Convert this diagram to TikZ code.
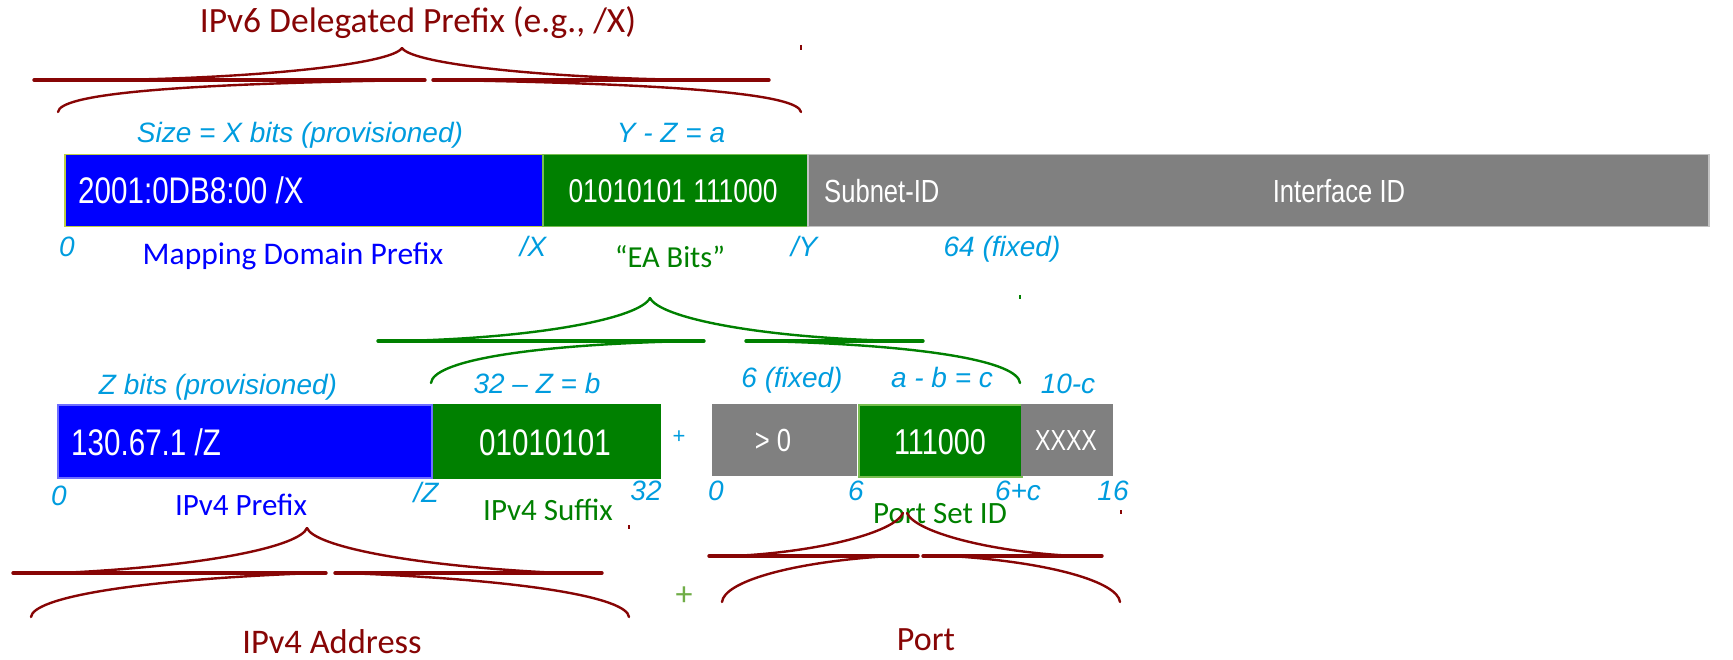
\documentclass[tikz,border=0pt]{standalone}
\usepackage{fontspec}
\setmainfont{Carlito}
\newfontfamily\arialf{Liberation Sans}
\newfontfamily\arialn[FakeStretch=0.8]{Liberation Sans}
\newcommand\fsz[1]{\fontsize{#1}{#1}\selectfont}
\definecolor{dred}{RGB}{135,5,5}
\definecolor{skyb}{RGB}{0,156,222}
\definecolor{bitgreen}{RGB}{0,128,0}
\definecolor{bitgray}{RGB}{128,128,128}
\definecolor{ylgreen}{RGB}{190,205,70}
\definecolor{lgreen}{RGB}{120,190,80}
\definecolor{lblue}{RGB}{110,110,255}
\definecolor{lgray}{RGB}{195,195,195}
\definecolor{plusgreen}{RGB}{112,173,71}
\begin{document}
\begin{tikzpicture}[x=1pt,y=-1pt,
  box/.style={draw,line width=1.5pt,anchor=north west,inner sep=0,minimum height=#1},
  box/.default=72pt,
  lbl/.style={anchor=base,inner sep=0,text=skyb,font=\arialf\itshape\fsz{28}},
  bits/.style={anchor=base,inner sep=0,text=white,font=\arialn\fsz{#1}},
  cap/.style={anchor=base,inner sep=0,font=\fsz{#1}},
  brline/.style={line width=3.4pt,line cap=round},
  brcurve/.style={line width=2.4pt,line cap=round}]
\useasboundingbox (0,0) rectangle (1733,660);
%ipv6 row
\node[box,fill=blue,draw=ylgreen,minimum width=478pt] (pfx6) at (64,154) {};
\node[box,fill=bitgreen,draw=lgreen,minimum width=265pt] (ea6) at (542,154) {};
\node[box,fill=bitgray,draw=lgray,minimum width=901pt] (host6) at (807,154) {};
\node[bits=37,anchor=base west] (pfx6txt) at (78,204) {2001:0DB8:00 /X};
\node[bits=33] (ea6txt) at (673,203) {01010101 111000};
\node[bits=32,anchor=base west] (subnet) at (824,203) {Subnet-ID};
\node[bits=32] (iid) at (1339,203) {Interface ID};
\node[lbl] (xsize) at (300,143) {Size = X bits (provisioned)};
\node[lbl] (yz) at (671,143) {Y - Z = a};
\node[lbl] (v6zero) at (67,257) {0};
\node[lbl] (v6x) at (533,257) {/X};
\node[lbl] (v6y) at (804,257) {/Y};
\node[lbl] (v6fix) at (1002,257) {64 (fixed)};
\node[cap=31.5,text=blue] (mdp) at (293,265) {Mapping Domain Prefix};
\node[cap=30.5,text=bitgreen] (eabits) at (670,268) {“EA Bits”};
\node[cap=35.5,text=dred] (deleg) at (418,33) {IPv6 Delegated Prefix (e.g., /X)};
%ipv4 row
\node[box=73pt,fill=blue,draw=lblue,minimum width=374pt] (pfx4) at (57,404) {};
\node[box=73pt,fill=bitgreen,draw=bitgreen,minimum width=226pt] (sfx4) at (433,404) {};
\node[bits=37,anchor=base west] (pfx4txt) at (71,455) {130.67.1 /Z};
\node[bits=37] (sfx4txt) at (545,455) {01010101};
\node[lbl] (zsize) at (218,395) {Z bits (provisioned)};
\node[lbl] (zb) at (537,393) {32 – Z = b};
\node[lbl] (v4zero) at (59,505) {0};
\node[lbl] (v4z) at (426,502) {/Z};
\node[lbl] (v4end) at (646,500) {32};
\node[cap=31,text=blue] (v4pfx) at (241,515) {IPv4 Prefix};
\node[cap=31,text=bitgreen] (v4sfx) at (548,520) {IPv4 Suffix};
\node[anchor=center,inner sep=0,text=skyb,font=\arialf\fsz{22}] (plus1) at (679,437) {+};
%port row
\node[box=70pt,fill=bitgray,draw=bitgray,minimum width=143pt] (offs) at (712,404) {};
\node[box=72pt,fill=bitgreen,draw=lgreen,minimum width=163pt] (psid) at (858,404) {};
\node[box=70pt,fill=bitgray,draw=bitgray,minimum width=90pt] (rest) at (1021,404) {};
\node[bits=32] (offstxt) at (773,451) {> 0};
\node[bits=36] (psidtxt) at (940,454) {111000};
\node[bits=29] (resttxt) at (1066,450) {XXXX};
\node[lbl] (fix6) at (792,388) {6 (fixed)};
\node[lbl] (abc) at (942,388) {a - b = c};
\node[lbl] (tenc) at (1068,393) {10-c};
\node[lbl] (p0) at (716,500) {0};
\node[lbl] (p6) at (856,500) {6};
\node[lbl] (p6c) at (1018,500) {6+c};
\node[lbl] (p16) at (1113,500) {16};
\node[cap=31,text=bitgreen] (psidlbl) at (940,523) {Port Set ID};
\node[anchor=center,inner sep=0,text=plusgreen,font=\fsz{34}] (plus2) at (684,596) {+};
\node[cap=34.5,text=dred] (v4addr) at (332,653) {IPv4 Address};
\node[cap=34,text=dred] (port) at (926,650) {Port};
%braces
\begin{scope}[dred]
\draw[brline] (34,80)--(425,80) (433,80)--(769,80);
\draw[brcurve] (402,48) .. controls (392,64) and (260,78) .. (110,80);
\draw[brcurve] (58,112) .. controls (60,95) and (160,84) .. (420,80);
\draw[brcurve] (402,48) .. controls (412,64) and (544,78) .. (694,80);
\draw[brcurve] (801,112) .. controls (798,95) and (690,84) .. (440,80);
\draw[line width=1.5pt] (801,45)--(801,50);
\draw[brline] (13,573)--(326,573) (335,573)--(602,573);
\draw[brcurve] (307,528) .. controls (300,546) and (210,566) .. (60,573);
\draw[brcurve] (31,617) .. controls (33,598) and (130,580) .. (315,573);
\draw[brcurve] (307,528) .. controls (314,546) and (410,566) .. (560,573);
\draw[brcurve] (629,617) .. controls (627,598) and (530,580) .. (345,573);
\draw[line width=1.5pt] (629,525)--(629,529);
\draw[brline] (709,556)--(918,556) (923,556)--(1102,556);
\draw[brcurve] (903,513) .. controls (895,532) and (820,552) .. (733,556);
\draw[brcurve] (722,602) .. controls (724,582) and (790,562) .. (890,556);
\draw[brcurve] (907,513) .. controls (915,532) and (990,552) .. (1075,556);
\draw[brcurve] (1120,602) .. controls (1118,582) and (1050,562) .. (950,556);
\draw[line width=1.5pt] (1121,510)--(1121,514);
\end{scope}
\begin{scope}[bitgreen]
\draw[brline] (378,341)--(704,341) (746,341)--(923,341);
\draw[brcurve] (650,298) .. controls (640,318) and (540,338) .. (400,341);
\draw[brcurve] (431,383) .. controls (433,362) and (520,345) .. (690,341);
\draw[brcurve] (650,298) .. controls (660,318) and (760,338) .. (900,341);
\draw[brcurve] (1020,383) .. controls (1018,362) and (930,345) .. (760,341);
\draw[line width=1.5pt] (1020,295)--(1020,299);
\end{scope}
\end{tikzpicture}
\end{document}
